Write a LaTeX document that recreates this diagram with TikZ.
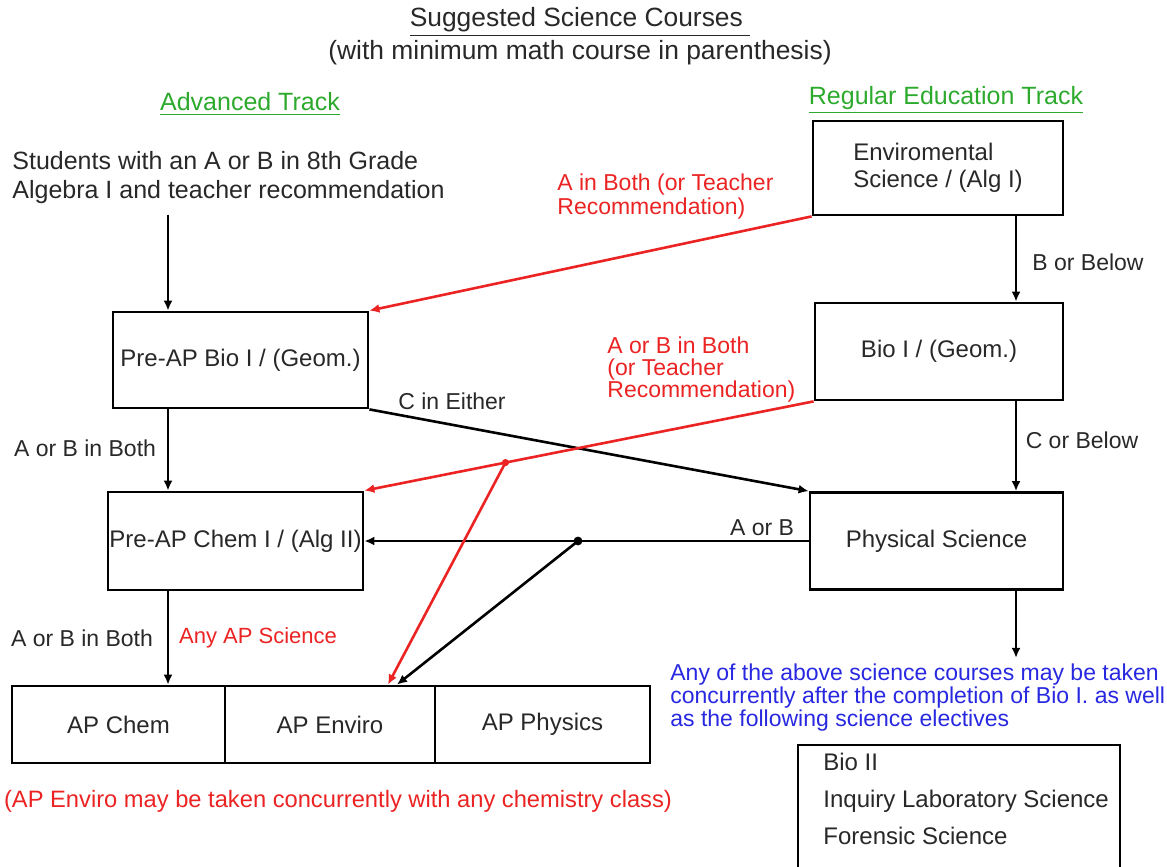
\documentclass[tikz,border=0pt]{standalone}
\usepackage{fontspec}
\setmainfont{Liberation Sans}
\usetikzlibrary{arrows.meta,calc}
\definecolor{redc}{RGB}{235,35,35}
\definecolor{greenc}{RGB}{45,170,45}
\definecolor{bluec}{RGB}{40,40,225}
\definecolor{inkc}{RGB}{40,40,40}

\begin{document}
\begin{tikzpicture}[x=0.5pt,y=-0.5pt,
    box/.style={draw=black, line width=1.4pt, align=center, inner sep=0pt, text=inkc, font=\fontsize{12}{13.5}\selectfont},
    txt/.style={text=inkc, font=\fontsize{12.5}{14.5}\selectfont, align=left, inner sep=0pt},
    lab/.style={text=inkc, font=\fontsize{11.5}{11.5}\selectfont, align=left, inner sep=0pt},
    arr/.style={-{Latex[length=5pt,width=4.5pt]}, line width=1.3pt}]
        \useasboundingbox (0,0) rectangle (1167,867);

        % Titles
        \node[txt, font=\fontsize{13.2}{14}\selectfont] (title) at (580,22) {\underline{Suggested Science Courses\ }};
        \node[txt, font=\fontsize{13.2}{14}\selectfont] (subtitle) at (580,53) {(with minimum math course in parenthesis)};
        \node[txt, text=greenc] (advtrack) at (250,104) {\underline{Advanced Track}};
        \node[txt, text=greenc] (regtrack) at (946,100) {\underline{Regular Education Track}};

        % Advanced track (left column)
        \node[txt, anchor=west] (students) at (12,178) {Students with an A or B in 8th Grade\\Algebra I and teacher recommendation};
        \node[box, minimum width=127.5pt, minimum height=48pt] (bioAP) at (240.5,360) {Pre-AP Bio I / (Geom.)};
        \node[box, minimum width=127.5pt, minimum height=49pt] (chemAP) at (235.5,541) {Pre-AP Chem I / (Alg II)};

        % AP row
        \node[box, minimum width=106.5pt, minimum height=38.5pt] (apchem) at (118.5,724.5) {AP Chem};
        \node[box, minimum width=105pt, minimum height=38.5pt] (apenviro) at (330,724.5) {AP Enviro};
        \node[box, minimum width=107.5pt, minimum height=38.5pt] (apphys) at (542.5,724.5) {AP Physics};

        % Regular track (right column)
        \node[box, minimum width=125pt, minimum height=47pt, align=left] (envir) at (938,168) {Enviromental\\Science / (Alg I)};
        \node[box, minimum width=124pt, minimum height=48.5pt] (bio) at (939,351.5) {Bio I / (Geom.)};
        \node[box, minimum width=126.5pt, minimum height=48.5pt] (phys) at (936.5,541) {Physical Science};
        \node[lab, text=bluec, anchor=west] (concur) at (670,698) {Any of the above science courses may be taken\\concurrently after the completion of Bio I. as well\\as the following science electives};

        % Electives (box runs off the bottom)
        \node[txt, font=\fontsize{12}{18.5}\selectfont, anchor=west] (electives) at (823,799) {Bio II\\Inquiry Laboratory Science\\Forensic Science};
        \draw[line width=1.4pt] (798,867) |- (1120,745) -- (1120,867);

        % Column guides
        \coordinate (lcol) at (168,0);
        \coordinate (rcol) at (1016,0);

        % Vertical arrows
        \draw[arr] (lcol |- students.south) ++(0,10) -- (lcol |- bioAP.north);
        \draw[arr] (lcol |- bioAP.south) -- (lcol |- chemAP.north);
        \draw[arr] (lcol |- chemAP.south) -- (lcol |- apchem.north);
        \draw[arr] (rcol |- envir.south) -- (rcol |- bio.north);
        \draw[arr] (rcol |- bio.south) -- (rcol |- phys.north);
        \draw[arr] (rcol |- phys.south) -- ($(rcol |- concur.north)+(0,-6)$);

        % Crossing arrows (black)
        \draw[arr] (bioAP.south east) -- (phys.north west);
        \draw[arr] (phys.west) -- (chemAP.east);
        \coordinate (bj) at (578,541);
        \fill (bj) circle (2.2pt);
        \draw[arr] (bj) -- ([xshift=33.5pt]apenviro.north);

        % Crossing arrows (red)
        \draw[arr, redc] (envir.south west) -- (bioAP.north east);
        \draw[arr, redc] (bio.south west) -- (chemAP.north east);
        \coordinate (rj) at ($(bio.south west)!0.686!(chemAP.north east)$);
        \fill[redc] (rj) circle (1.8pt);
        \draw[arr, redc] (rj) -- ([xshift=29pt]apenviro.north);

        % Arrow labels
        \node[lab] (l1) at (85,448) {A or B in Both};
        \node[lab] (l2) at (82,638) {A or B in Both};
        \node[lab, text=redc, font=\fontsize{11}{11}\selectfont] (l3) at (258,638) {Any AP Science};
        \node[lab] (l4) at (452,401) {C in Either};
        \node[lab] (l5) at (762,528) {A or B};
        \node[lab] (l6) at (1088,262) {B or Below};
        \node[lab] (l7) at (1082,440) {C or Below};
        \node[lab, text=redc, anchor=west, font=\fontsize{11.5}{12}\selectfont] (l8) at (557,197) {A in Both (or Teacher\\Recommendation)};
        \node[lab, text=redc, anchor=west, font=\fontsize{11.5}{11}\selectfont] (l9) at (607,370) {A or B in Both\\(or Teacher\\Recommendation)};

        % Bottom note
        \node[lab, text=redc, font=\fontsize{11.85}{12}\selectfont] (note) at (338,801) {(AP Enviro may be taken concurrently with any chemistry class)};

\end{tikzpicture}
\end{document}
